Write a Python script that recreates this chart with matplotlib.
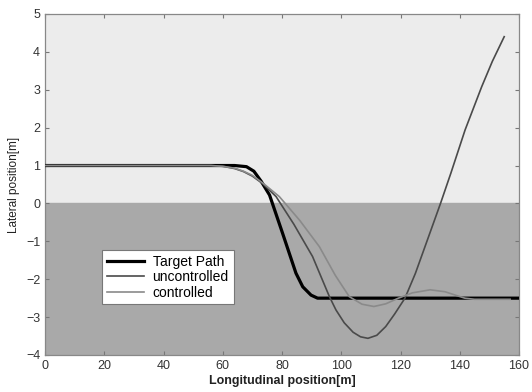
import matplotlib
matplotlib.use("Agg")
import matplotlib.pyplot as plt

plt.rcParams["font.family"] = ["Liberation Sans", "DejaVu Sans"]

# target lane-change path
target_x = [0, 64, 68, 70.5, 73, 75.8, 80.2, 84.7, 87, 89.8, 92, 160]
target_y = [1, 1, 0.97, 0.85, 0.58, 0.22, -0.79, -1.84, -2.2, -2.42, -2.5, -2.5]

# vehicle without controller (diverges)
unctrl_x = [0, 56, 60, 64, 67, 70, 73.5, 78, 84, 90.3, 96, 98.2, 101, 104, 106.5, 109,
            112, 115, 118, 121.5, 125, 129, 133.5, 137, 141.8, 147.4, 151, 155]
unctrl_y = [1, 1, 0.98, 0.92, 0.84, 0.72, 0.52, 0.18, -0.55, -1.4, -2.46, -2.81, -3.15,
            -3.4, -3.52, -3.56, -3.48, -3.25, -2.92, -2.5, -1.85, -0.98, 0.0, 0.8, 1.94,
            3.08, 3.75, 4.4]

# vehicle with controller (settles on the target)
ctrl_x = [0, 56, 60, 64, 67, 70, 73.5, 79.1, 86, 92.6, 98, 102.7, 107, 111, 115, 119.3,
          124, 130, 135, 138.5, 141.7, 145, 157]
ctrl_y = [1, 1, 0.98, 0.93, 0.85, 0.74, 0.54, 0.18, -0.45, -1.14, -1.9, -2.46, -2.66,
          -2.72, -2.65, -2.5, -2.36, -2.28, -2.33, -2.42, -2.5, -2.53, -2.53]

fig = plt.figure(figsize=(5.32, 3.92), dpi=100)
ax = fig.add_axes([0.0846, 0.0944, 0.891, 0.87])

ax.axhspan(0, 5, color="#ececec", zorder=0)
ax.axhspan(-4, 0, color="#a9a9a9", zorder=0)

ax.plot(target_x, target_y, color="black", lw=2.3, label="Target Path", zorder=3)
ax.plot(unctrl_x, unctrl_y, color="#4a4a4a", lw=1.2, label="uncontrolled", zorder=4)
ax.plot(ctrl_x, ctrl_y, color="#8a8a8a", lw=1.2, label="controlled", zorder=4)

ax.set_xlim(0, 160)
ax.set_ylim(-4, 5)
ax.set_xticks(range(0, 161, 20))
ax.set_yticks(range(-4, 6))
ax.tick_params(direction="in", top=True, right=True, length=3, width=0.8,
               colors="#777777", labelcolor="#333333", labelsize=9)
for s in ax.spines.values():
    s.set_color("#888888")
    s.set_linewidth(0.9)

ax.set_xlabel("Longitudinal position[m]", fontsize=9, fontweight="semibold",
              color="#222222", labelpad=2)
ax.set_ylabel("Lateral position[m]", fontsize=8.5, color="#222222", labelpad=4)

leg = ax.legend(loc="upper left", bbox_to_anchor=(0.12, 0.308), borderaxespad=0,
                fontsize=10, fancybox=False, framealpha=1, edgecolor="#777777",
                handlelength=2.7, borderpad=0.35, labelspacing=0.1,
                handletextpad=0.6)
leg.get_frame().set_linewidth(0.8)

fig.savefig("out.png", dpi=100)
